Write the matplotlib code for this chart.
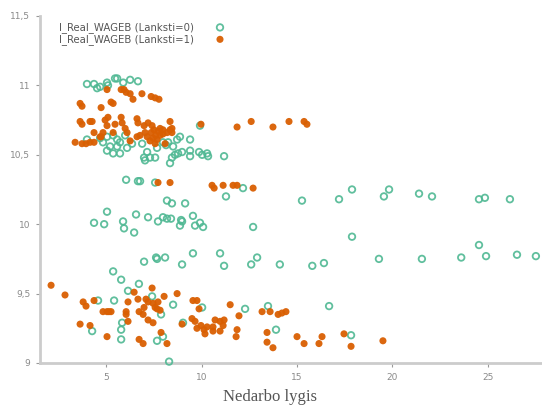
import matplotlib
matplotlib.use("Agg")
import matplotlib.pyplot as plt
from matplotlib.ticker import FuncFormatter

# Lanksti = 0 (hollow green circles)
x0 = [4.0, 4.37, 4.53, 4.69, 5.05, 5.10, 5.47, 5.58, 5.9, 6.26, 6.67,
      4.0, 4.69, 4.84, 5.05, 5.37, 5.58, 5.21, 5.58, 5.73, 6.0, 5.05, 5.37,
      5.73, 6.1, 6.36, 6.89, 7.15, 6.99, 7.3, 7.57, 7.67, 7.98, 8.14, 8.25,
      8.35, 8.45, 8.61, 8.77, 8.98, 8.51, 8.72, 8.87, 9.4, 9.4, 9.4, 9.87,
      10.03, 10.29, 10.34, 9.92, 11.18, 7.04,
      6.05, 6.67, 6.78, 7.57,
      8.19, 8.45, 9.14, 11.28, 12.17, 15.26, 17.2, 17.88, 19.55, 19.82,
      21.39, 22.07, 24.53, 24.84, 26.15,
      4.37, 4.9, 5.05, 5.89, 5.94, 6.47, 6.57, 7.2, 7.72, 7.98, 8.19, 8.4,
      8.98, 8.93, 8.87, 9.55, 9.66, 9.92, 10.08, 12.7, 17.88,
      6.99, 7.62, 7.67, 8.09, 8.98, 9.55, 10.97, 11.18, 12.6, 12.91, 14.1,
      15.8, 16.41, 19.29, 21.54, 23.6, 24.53, 24.9, 26.52, 27.51,
      5.37, 5.79, 6.15, 6.72, 7.41, 4.58, 5.42, 8.51, 10.03, 12.28, 13.48,
      16.68, 7.88, 5.84, 5.79, 4.27, 5.79, 7.67, 7.98, 9.03, 8.3, 13.9, 17.83]
y0 = [11.01, 11.01, 10.98, 10.99, 11.02, 11.0, 11.05, 11.05, 11.02, 11.04, 11.03,
      10.61, 10.62, 10.59, 10.63, 10.64, 10.61, 10.56, 10.56, 10.59, 10.64, 10.53, 10.51,
      10.51, 10.55, 10.58, 10.58, 10.52, 10.48, 10.48, 10.48, 10.55, 10.59, 10.57, 10.59,
      10.44, 10.48, 10.5, 10.51, 10.52, 10.56, 10.61, 10.63, 10.61, 10.53, 10.49, 10.52,
      10.5, 10.51, 10.49, 10.71, 10.49, 10.46,
      10.32, 10.31, 10.31, 10.30,
      10.17, 10.15, 10.15, 10.2, 10.26, 10.17, 10.18, 10.25, 10.2, 10.25,
      10.22, 10.2, 10.18, 10.19, 10.18,
      10.01, 10.0, 10.09, 10.02, 9.97, 9.94, 10.07, 10.05, 10.02, 10.05, 10.04, 10.04,
      10.02, 10.03, 9.99, 10.06, 9.99, 10.01, 9.98, 9.98, 9.91,
      9.73, 9.76, 9.75, 9.76, 9.71, 9.79, 9.79, 9.7, 9.71, 9.76, 9.71,
      9.70, 9.72, 9.75, 9.75, 9.76, 9.85, 9.77, 9.78, 9.77,
      9.66, 9.6, 9.52, 9.57, 9.48, 9.45, 9.45, 9.42, 9.4, 9.39, 9.41,
      9.41, 9.35, 9.29, 9.24, 9.23, 9.17, 9.16, 9.19, 9.29, 9.01, 9.24, 9.2]

# Lanksti = 1 (filled orange dots)
x1 = [3.64, 3.74, 4.74, 5.05, 5.26, 5.37, 5.79, 5.94, 6.05, 6.26, 6.41, 6.88,
      7.36, 7.57, 7.77,
      3.64, 3.74, 4.16, 4.27, 4.37, 4.74, 4.84, 4.95, 5.1, 5.05, 5.37, 5.47,
      5.79, 5.84, 6.0, 6.1, 6.62, 6.67, 6.99, 7.2, 7.41, 7.51, 7.36, 7.72,
      7.83, 7.98, 8.35, 8.35, 8.45, 8.45, 6.62, 6.78, 7.04, 7.15, 7.46, 7.67,
      7.57, 7.83, 7.98, 8.09, 7.3, 7.6, 8.2, 3.38, 3.74, 3.95, 4.16, 4.37,
      4.69, 6.26, 9.97, 11.86, 12.6, 13.74, 14.58, 15.37, 15.52,
      7.72, 8.35, 10.55, 10.66, 11.13, 11.65, 11.86, 12.7,
      2.12, 2.85, 3.8, 3.95, 4.37, 4.84, 5.05, 5.15, 5.26, 3.64, 4.16, 5.05,
      6.05, 6.05, 6.15, 6.15, 6.47, 6.67, 6.73, 6.94, 6.99, 7.09, 7.2, 7.2,
      7.41, 7.46, 7.46, 7.57, 7.72, 7.67, 7.83, 8.04, 8.72, 6.73, 6.94, 7.88,
      8.19, 8.98, 9.55, 9.76, 9.87, 9.5, 9.66, 9.76, 9.97, 10.13, 10.29, 10.18,
      10.6, 10.71, 10.97, 11.13, 11.18, 10.6, 10.97, 11.5, 11.96, 11.86, 11.81,
      13.17, 13.59, 14.01, 14.21, 14.42, 13.43, 13.43, 13.74, 15.0, 15.37,
      16.15, 16.31, 17.46, 17.83, 19.5]
y1 = [10.87, 10.85, 10.84, 10.97, 10.88, 10.87, 10.97, 10.97, 10.95, 10.94, 10.90, 10.94,
      10.92, 10.91, 10.90,
      10.74, 10.72, 10.74, 10.74, 10.66, 10.63, 10.66, 10.75, 10.77, 10.71, 10.66, 10.72,
      10.77, 10.73, 10.69, 10.66, 10.76, 10.73, 10.71, 10.73, 10.71, 10.68, 10.66, 10.67,
      10.69, 10.68, 10.74, 10.68, 10.69, 10.66, 10.63, 10.64, 10.66, 10.63, 10.62, 10.61,
      10.58, 10.64, 10.65, 10.58, 10.6, 10.64, 10.66, 10.59, 10.58, 10.58, 10.59, 10.59,
      10.63, 10.6, 10.72, 10.7, 10.74, 10.7, 10.74, 10.74, 10.72,
      10.30, 10.30, 10.28, 10.26, 10.28, 10.28, 10.28, 10.26,
      9.56, 9.49, 9.44, 9.41, 9.45, 9.37, 9.37, 9.37, 9.37, 9.28, 9.27, 9.19,
      9.37, 9.35, 9.44, 9.3, 9.51, 9.46, 9.37, 9.35, 9.4, 9.46, 9.31, 9.44,
      9.54, 9.43, 9.29, 9.4, 9.44, 9.39, 9.38, 9.48, 9.5, 9.17, 9.14, 9.22,
      9.14, 9.28, 9.45, 9.45, 9.39, 9.32, 9.3, 9.25, 9.27, 9.24, 9.26, 9.21,
      9.26, 9.31, 9.3, 9.27, 9.31, 9.23, 9.23, 9.42, 9.34, 9.24, 9.19,
      9.37, 9.37, 9.35, 9.36, 9.37, 9.22, 9.15, 9.11, 9.19, 9.14,
      9.14, 9.19, 9.21, 9.12, 9.16]

labels = ["l_Real_WAGEB (Lanksti=0)", "l_Real_WAGEB (Lanksti=1)"]
xticks = [5, 10, 15, 20, 25]
yticks = [9, 9.5, 10, 10.5, 11, 11.5]

fig = plt.figure(figsize=(5.42, 4.08), dpi=100)
ax = fig.add_axes([0.0738, 0.1103, 0.9262, 0.8505])

ax.scatter(x0, y0, s=22, facecolors="none", edgecolors="#4fb893",
           linewidths=1.3, alpha=0.9, label=labels[0], clip_on=False, zorder=3)
ax.scatter(x1, y1, s=26, color="#d95f02", edgecolors="none",
           alpha=0.95, label=labels[1], clip_on=False, zorder=4)

ax.set_xlim(1.54, 27.83)
ax.set_ylim(9, 11.5)
ax.set_xticks(xticks)
ax.set_yticks(yticks)
ax.yaxis.set_major_formatter(FuncFormatter(lambda v, p: f"{v:g}".replace(".", ",")))

for side in ["top", "right"]:
    ax.spines[side].set_visible(False)
for side in ["left", "bottom"]:
    ax.spines[side].set_color("#cccccc")
    ax.spines[side].set_linewidth(2)
ax.tick_params(colors="#999999", labelsize=6.5, length=3, width=0.8,
               labelcolor="#8a8a8a", pad=4)

leg = ax.legend(loc="upper left", bbox_to_anchor=(0.025, 1.0), frameon=False,
                markerfirst=False, fontsize=7.3, handletextpad=1.6,
                labelspacing=0.1, borderaxespad=0.2)
for t in leg.get_texts():
    t.set_color("#555555")

fig.text(0.498, 0.028, "Nedarbo lygis", family="Liberation Serif",
         fontsize=12, color="#555555", ha="center", va="center")

fig.savefig("out.png", dpi=100)
